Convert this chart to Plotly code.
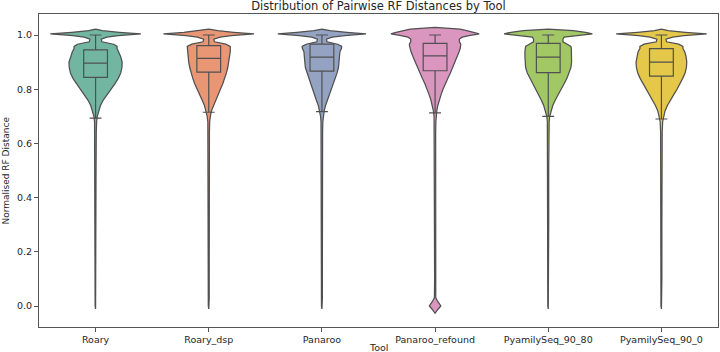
import colorsys
import plotly.graph_objects as go

tools = ["Roary", "Roary_dsp", "Panaroo", "Panaroo_refound", "PyamilySeq_90_80", "PyamilySeq_90_0"]
base_colors = ["#66c2a5", "#fc8d62", "#8da0cb", "#e78ac3", "#a6d854", "#ffd92f"]

# box statistics
q1 = [0.844, 0.863, 0.867, 0.868, 0.861, 0.848]
median = [0.896, 0.914, 0.918, 0.923, 0.918, 0.900]
q3 = [0.945, 0.961, 0.966, 0.969, 0.969, 0.950]
lower_whisker = [0.693, 0.715, 0.717, 0.713, 0.700, 0.690]
upper_whisker = [1.0, 1.0, 1.0, 1.0, 1.0, 1.0]

# violin density profile: half-widths (category units) at each distance level
density_levels = [1.028, 1.022, 1.016, 1.010, 1.004, 0.998, 0.992, 0.985, 0.975, 0.966, 0.958, 0.950,
                  0.938, 0.92, 0.90, 0.88, 0.86, 0.84, 0.82, 0.80, 0.78, 0.76, 0.74, 0.72, 0.70,
                  0.68, 0.64, 0.5, 0.3, 0.1, 0.03, 0.015, 0.0, -0.011, -0.027]
roary_w = [0, 0, 0.06, 0.21, 0.40, 0.20, 0.10, 0.05, 0.055, 0.16, 0.19, 0.19,
           0.205, 0.222, 0.235, 0.233, 0.222, 0.20, 0.17, 0.135, 0.10, 0.068, 0.043, 0.026, 0.015,
           0.009, 0.006, 0.004, 0.004, 0.004, 0.004, 0.004, 0.004, 0, 0]
roary_dsp_w = [0, 0, 0.08, 0.22, 0.40, 0.20, 0.10, 0.045, 0.05, 0.15, 0.19, 0.19,
               0.19, 0.183, 0.177, 0.168, 0.156, 0.141, 0.124, 0.103, 0.082, 0.059, 0.038, 0.024, 0.014,
               0.008, 0.006, 0.004, 0.004, 0.004, 0.004, 0.004, 0.004, 0, 0]
panaroo_w = [0, 0, 0.07, 0.22, 0.39, 0.20, 0.09, 0.04, 0.045, 0.14, 0.175, 0.172,
             0.159, 0.155, 0.151, 0.146, 0.134, 0.116, 0.10, 0.082, 0.066, 0.05, 0.032, 0.02, 0.012,
             0.008, 0.006, 0.004, 0.004, 0.004, 0.004, 0.004, 0.004, 0, 0]
panaroo_refound_w = [0, 0.22, 0.28, 0.345, 0.39, 0.30, 0.24, 0.215, 0.215, 0.227, 0.225, 0.222,
                     0.212, 0.195, 0.177, 0.157, 0.135, 0.113, 0.09, 0.07, 0.053, 0.037, 0.024, 0.015, 0.009,
                     0.007, 0.005, 0.004, 0.004, 0.004, 0.006, 0.026, 0.051, 0.028, 0]
pyamily_90_80_w = [0, 0, 0.22, 0.33, 0.39, 0.256, 0.14, 0.13, 0.13, 0.168, 0.20, 0.204,
                   0.206, 0.206, 0.206, 0.20, 0.185, 0.165, 0.14, 0.113, 0.088, 0.062, 0.04, 0.024, 0.013,
                   0.008, 0.006, 0.004, 0.004, 0.004, 0.004, 0.004, 0.004, 0, 0]
pyamily_90_0_w = [0, 0, 0.06, 0.21, 0.40, 0.20, 0.10, 0.04, 0.045, 0.153, 0.19, 0.19,
                  0.206, 0.218, 0.224, 0.221, 0.209, 0.188, 0.165, 0.138, 0.109, 0.08, 0.053, 0.032, 0.02,
                  0.011, 0.007, 0.004, 0.004, 0.004, 0.004, 0.004, 0.004, 0, 0]
widths = [roary_w, roary_dsp_w, panaroo_w, panaroo_refound_w, pyamily_90_80_w, pyamily_90_0_w]

y_ticks = [0.0, 0.2, 0.4, 0.6, 0.8, 1.0]
x_range = [-0.5, 5.5]
y_range = [-0.0775, 1.0775]


def desaturate(hex_color, prop=0.75):
    r, g, b = (int(hex_color[i:i + 2], 16) / 255 for i in (1, 3, 5))
    h, l, s = colorsys.rgb_to_hls(r, g, b)
    r, g, b = colorsys.hls_to_rgb(h, l, s * prop)
    return "#%02x%02x%02x" % (round(r * 255), round(g * 255), round(b * 255))


def trim(levels, w):
    # keep only one zero-width point at each end of the profile
    start = 0
    while start + 1 < len(w) and w[start + 1] == 0:
        start += 1
    end = len(w) - 1
    while end - 1 >= 0 and w[end - 1] == 0:
        end -= 1
    return levels[start:end + 1], w[start:end + 1]


colors = [desaturate(c) for c in base_colors]
edge = "#505050"

fig = go.Figure()
for i, tool in enumerate(tools):
    lv, w = trim(density_levels, widths[i])
    xs = [i + v for v in w] + [i - v for v in reversed(w)]
    ys = list(lv) + list(reversed(lv))
    fig.add_trace(go.Scatter(x=xs, y=ys, mode="lines", fill="toself", fillcolor=colors[i],
                             line=dict(color=edge, width=1.25), showlegend=False, hoverinfo="skip"))
# boxes on an overlaying pair of axes so they sit above the violins
for i, tool in enumerate(tools):
    fig.add_trace(go.Box(x=[i], q1=[q1[i]], median=[median[i]], q3=[q3[i]],
                         lowerfence=[lower_whisker[i]], upperfence=[upper_whisker[i]],
                         orientation="v", width=0.21, whiskerwidth=0.5, fillcolor=colors[i],
                         line=dict(color=edge, width=1.2), boxpoints=False, showlegend=False, name=tool,
                         xaxis="x2", yaxis="y2"))

axis_font = dict(family="DejaVu Sans", size=9.5, color="#262626")
fig.update_layout(
    width=720, height=352,
    margin=dict(l=39, r=2, t=14, b=25),
    paper_bgcolor="white", plot_bgcolor="white",
    title=dict(text="Distribution of Pairwise RF Distances by Tool", x=0.5, xref="paper", xanchor="center",
               y=1 - 6 / 352, yref="container", yanchor="middle",
               font=dict(family="DejaVu Sans", size=11.5, color="#262626")),
    xaxis=dict(range=x_range, tickvals=list(range(len(tools))), ticktext=tools,
               showline=True, mirror=True, linecolor="#555555", linewidth=1, showgrid=False,
               zeroline=False, ticks="outside", ticklen=4, tickcolor="#555555", tickfont=axis_font),
    yaxis=dict(range=y_range, tickvals=y_ticks, tickformat=".1f",
               showline=True, mirror=True, linecolor="#555555", linewidth=1, showgrid=False,
               zeroline=False, ticks="outside", ticklen=4, tickcolor="#555555", tickfont=axis_font),
    xaxis2=dict(range=x_range, overlaying="x", visible=False, showgrid=False, zeroline=False),
    yaxis2=dict(range=y_range, overlaying="y", visible=False, showgrid=False, zeroline=False),
    annotations=[
        dict(text="Normalised RF Distance", xref="paper", yref="paper", x=-0.05, y=0.5,
             textangle=-90, showarrow=False, xanchor="center", yanchor="middle",
             font=dict(family="DejaVu Sans", size=9, color="#262626")),
        dict(text="Tool", xref="paper", yref="paper", x=0.5, y=-0.067, showarrow=False,
             xanchor="center", yanchor="middle",
             font=dict(family="DejaVu Sans", size=9.5, color="#262626")),
    ],
)
fig.write_html("out.html")
